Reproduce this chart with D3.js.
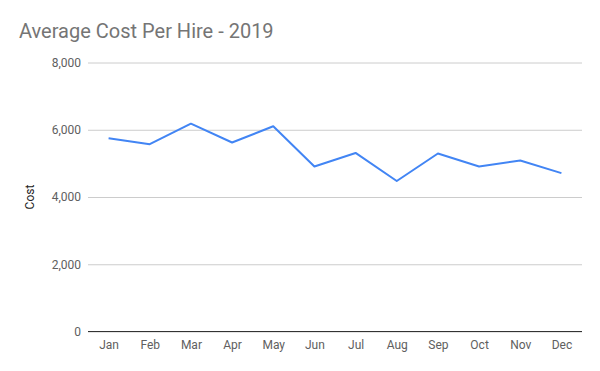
<!DOCTYPE html>
<html>
<head>
<meta charset="utf-8">
<script src="https://cdn.jsdelivr.net/npm/d3@7"></script>
<style>
  body { margin: 0; background: #fff; }
  text { font-family: Roboto, "Noto Sans", sans-serif; }
</style>
</head>
<body>
<div id="chart"></div>
<script>
// data
let months = ["Jan", "Feb", "Mar", "Apr", "May", "Jun", "Jul", "Aug", "Sep", "Oct", "Nov", "Dec"];
let cost = [5750, 5570, 6180, 5620, 6105, 4905, 5310, 4475, 5295, 4905, 5085, 4710];
let yTicks = [0, 2000, 4000, 6000, 8000];

let svgWidth = 600;
let svgHeight = 371;

let margin = { top: 62.5, right: 18, bottom: 39.5, left: 88 };
let width = svgWidth - margin.left - margin.right;
let height = svgHeight - margin.top - margin.bottom;

let svg = d3.select("#chart")
  .append("svg")
  .attr("width", svgWidth)
  .attr("height", svgHeight);

// title
svg.append("text")
  .attr("x", 19)
  .attr("y", 38)
  .attr("font-size", 20)
  .attr("fill", "#757575")
  .text("Average Cost Per Hire - 2019");

let chartGroup = svg.append("g")
  .attr("transform", `translate(${margin.left}, ${margin.top})`);

let xScale = d3.scalePoint()
  .domain(months)
  .range([0, width])
  .padding(0.5);

let yScale = d3.scaleLinear()
  .domain([0, 8000])
  .range([height, 0]);

// gridlines + y labels
let leftAxis = d3.axisLeft(yScale)
  .tickValues(yTicks)
  .tickSize(-width)
  .tickPadding(7)
  .tickFormat(d3.format(","));

let yAxis = chartGroup.append("g").call(leftAxis);
yAxis.select(".domain").remove();
yAxis.selectAll("line").attr("stroke", "#cccccc");
yAxis.selectAll("text")
  .attr("font-size", 12)
  .attr("fill", "#606060")
  .style("font-family", "Roboto, sans-serif");

// baseline
chartGroup.append("line")
  .attr("x1", 0)
  .attr("x2", width)
  .attr("y1", yScale(0))
  .attr("y2", yScale(0))
  .attr("stroke", "#333")
  .attr("stroke-width", 1);

// x labels
let bottomAxis = d3.axisBottom(xScale).tickSize(0).tickPadding(9);
let xAxis = chartGroup.append("g")
  .attr("transform", `translate(0, ${height})`)
  .call(bottomAxis);
xAxis.select(".domain").remove();
xAxis.selectAll("text")
  .attr("font-size", 12)
  .attr("fill", "#606060")
  .style("font-family", "Roboto, sans-serif");

// y axis title
chartGroup.append("text")
  .attr("transform", "rotate(-90)")
  .attr("x", -height / 2)
  .attr("y", 30 - margin.left + 4)
  .attr("text-anchor", "middle")
  .attr("font-size", 12)
  .attr("fill", "#222")
  .text("Cost");

// the line
let line = d3.line()
  .x((d, i) => xScale(months[i]))
  .y(d => yScale(d));

chartGroup.append("path")
  .datum(cost)
  .attr("fill", "none")
  .attr("stroke", "#4285f4")
  .attr("stroke-width", 2)
  .attr("stroke-linejoin", "round")
  .attr("d", line);
</script>
</body>
</html>
